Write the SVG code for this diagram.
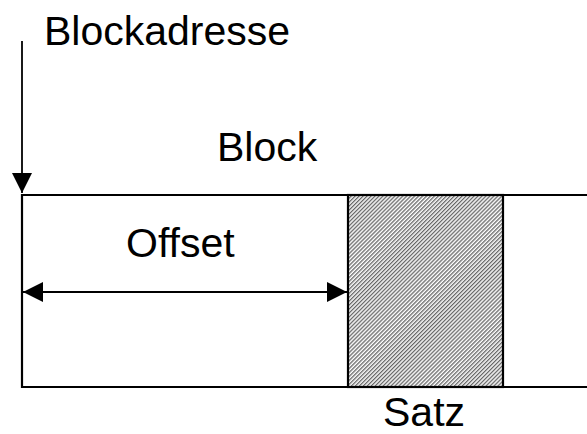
<svg xmlns="http://www.w3.org/2000/svg" width="587" height="434" viewBox="0 0 587 434">
  <style>
    .lbl { font-family: "Liberation Sans", Arial, sans-serif; font-size: 41px; fill: #000; }
    .edge { stroke: #000; stroke-width: 2.2; fill: none; }
    .conn { stroke: #000; stroke-width: 1.8; fill: none; }
  </style>
  <defs>
    <pattern id="hatch" width="2.8" height="2.8" patternUnits="userSpaceOnUse" patternTransform="rotate(45)">
      <rect width="2.8" height="2.8" fill="#fff"/>
      <rect width="1.3" height="2.8" fill="#666"/>
    </pattern>
    <marker id="head" viewBox="0 0 20 20" refX="20" refY="10" markerWidth="20" markerHeight="20" markerUnits="userSpaceOnUse" orient="auto-start-reverse">
      <path d="M0,0 L20,10 L0,20 Z" fill="#000"/>
    </marker>
  </defs>

  <g id="block">
    <line class="edge" x1="22" y1="195" x2="587" y2="195"/>
    <line class="edge" x1="22" y1="387" x2="587" y2="387"/>
    <line class="edge" x1="22" y1="194" x2="22" y2="388"/>
    <text class="lbl" x="217" y="161">Block</text>
  </g>

  <g id="satz">
    <rect x="348" y="195" width="155" height="192" fill="url(#hatch)" stroke="#000" stroke-width="2.2"/>
    <text class="lbl" x="383" y="426">Satz</text>
  </g>

  <g id="blockadresse">
    <text class="lbl" x="44" y="45">Blockadresse</text>
  </g>

  <g id="offset">
    <text class="lbl" x="126" y="257">Offset</text>
  </g>

  <g id="connectors">
    <line class="conn" x1="22" y1="41" x2="22" y2="193" marker-end="url(#head)"/>
    <line class="conn" x1="23" y1="292" x2="347" y2="292" marker-start="url(#head)" marker-end="url(#head)"/>
  </g>
</svg>
